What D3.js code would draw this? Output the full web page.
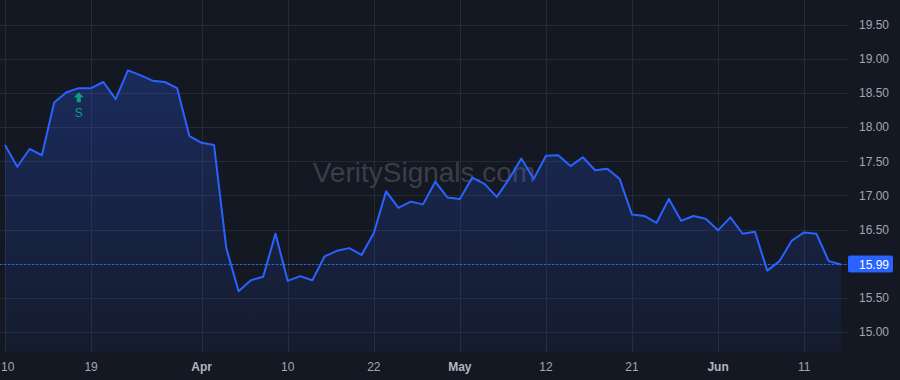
<!DOCTYPE html>
<html>
<head>
<meta charset="utf-8">
<script src="https://cdn.jsdelivr.net/npm/d3@7"></script>
<style>
  html, body { margin: 0; padding: 0; background: #141823; }
  #chart { width: 900px; height: 380px; }
  text { font-family: "Liberation Sans", Arial, sans-serif; }
</style>
</head>
<body>
<div id="chart"></div>
<script>
// Trading days (2025), listed per month
const marDays = [10, 11, 12, 13, 14, 17, 18, 19, 20, 21, 24, 25, 26, 27, 28, 31];
const aprDays = [1, 2, 3, 4, 7, 8, 9, 10, 11, 14, 15, 16, 17, 21, 22, 23, 24, 25, 28, 29, 30];
const mayDays = [1, 2, 5, 6, 7, 8, 9, 12, 13, 14, 15, 16, 19, 20, 21, 22, 23, 27, 28, 29, 30];
const junDays = [2, 3, 4, 5, 6, 9, 10, 11, 12, 13, 16];

// Closing prices, one per trading day
const closes = [
  17.74, 17.42, 17.68, 17.59, 18.36, 18.51, 18.57, 18.57, 18.66, 18.41,
  18.83, 18.76, 18.68, 18.66, 18.57, 17.87, 17.77, 17.74, 16.23, 15.60,
  15.76, 15.81, 16.44, 15.75, 15.82, 15.76, 16.11, 16.19, 16.23, 16.13,
  16.45, 17.06, 16.82, 16.91, 16.87, 17.20, 16.97, 16.95, 17.26, 17.17,
  16.98, 17.24, 17.54, 17.24, 17.58, 17.59, 17.43, 17.56, 17.37, 17.39,
  17.24, 16.72, 16.70, 16.60, 16.95, 16.63, 16.70, 16.66, 16.49, 16.68,
  16.44, 16.47, 15.90, 16.04, 16.34, 16.46, 16.44, 16.04, 15.99
];

// X axis tick labels (date -> label), month starts shown bold
const xTickDates = ["2025-03-10", "2025-03-19", "2025-04-01", "2025-04-10", "2025-04-22",
  "2025-05-01", "2025-05-12", "2025-05-21", "2025-06-02", "2025-06-11"];
const xTickLabels = ["10", "19", "Apr", "10", "22", "May", "12", "21", "Jun", "11"];

// Y axis ticks
const yTicks = [15.0, 15.5, 16.0, 16.5, 17.0, 17.5, 18.0, 18.5, 19.0, 19.5];

// Signal markers
const signalDates = ["2025-03-18"];
const signalLabels = ["S"];

const watermark = "VeritySignals.com";

const pad = (n) => String(n).padStart(2, "0");
const dates = [
  ...marDays.map((d) => `2025-03-${pad(d)}`),
  ...aprDays.map((d) => `2025-04-${pad(d)}`),
  ...mayDays.map((d) => `2025-05-${pad(d)}`),
  ...junDays.map((d) => `2025-06-${pad(d)}`),
];
const data = dates.map((d, i) => ({ date: d, value: closes[i] }));
const last = data[data.length - 1];

const width = 900;
const height = 380;
const plotW = 848;
const plotH = 352;

const bg = "#141823";
const gridColor = "#262a35";
const lineColor = "#2962ff";
const textColor = "#a3a6af";

const x = d3.scalePoint().domain(dates).range([5, 841]);
const y = d3.scaleLinear().domain([14.71, 19.86]).range([plotH, 0]);

const svg = d3.select("#chart")
  .append("svg")
  .attr("width", width)
  .attr("height", height);

svg.append("rect")
  .attr("width", width)
  .attr("height", height)
  .attr("fill", bg);

const defs = svg.append("defs");
const grad = defs.append("linearGradient")
  .attr("id", "areaFill")
  .attr("gradientUnits", "userSpaceOnUse")
  .attr("x1", 0).attr("x2", 0)
  .attr("y1", y(d3.max(closes))).attr("y2", plotH);
grad.append("stop").attr("offset", "0%").attr("stop-color", lineColor).attr("stop-opacity", 0.26);
grad.append("stop").attr("offset", "100%").attr("stop-color", lineColor).attr("stop-opacity", 0.05);

defs.append("clipPath").attr("id", "plotClip")
  .append("rect").attr("width", plotW).attr("height", plotH);

// Grid
const grid = svg.append("g");
yTicks.forEach((t) => {
  grid.append("line")
    .attr("x1", 0).attr("x2", plotW)
    .attr("y1", Math.round(y(t)) + 0.5).attr("y2", Math.round(y(t)) + 0.5)
    .attr("stroke", gridColor).attr("stroke-width", 1);
});
xTickDates.forEach((d) => {
  grid.append("line")
    .attr("x1", Math.round(x(d)) + 0.5).attr("x2", Math.round(x(d)) + 0.5)
    .attr("y1", 0).attr("y2", plotH)
    .attr("stroke", gridColor).attr("stroke-width", 1);
});

// Watermark
svg.append("text")
  .attr("x", plotW / 2)
  .attr("y", 172)
  .attr("dy", "0.35em")
  .attr("text-anchor", "middle")
  .style("font-size", "28px")
  .style("fill", "#3a3e49")
  .text(watermark);

const plot = svg.append("g").attr("clip-path", "url(#plotClip)");

// Area + line
plot.append("path")
  .datum(data)
  .attr("fill", "url(#areaFill)")
  .attr("d", d3.area().x((d) => x(d.date)).y0(plotH).y1((d) => y(d.value)));

plot.append("path")
  .datum(data)
  .attr("fill", "none")
  .attr("stroke", lineColor)
  .attr("stroke-width", 2)
  .attr("stroke-linejoin", "round")
  .attr("d", d3.line().x((d) => x(d.date)).y((d) => y(d.value)));

// Last price dashed line
plot.append("line")
  .attr("x1", 0).attr("x2", plotW)
  .attr("y1", y(last.value)).attr("y2", y(last.value))
  .attr("stroke", lineColor)
  .attr("stroke-width", 1)
  .attr("stroke-dasharray", "2,2");

// Signal markers (up arrow + label)
signalDates.forEach((d, i) => {
  const v = data.find((p) => p.date === d).value;
  const cx = x(d);
  const top = y(v) + 4;
  const arrow = d3.path();
  arrow.moveTo(cx, top);
  arrow.lineTo(cx + 5, top + 5);
  arrow.lineTo(cx + 2, top + 5);
  arrow.lineTo(cx + 2, top + 10);
  arrow.lineTo(cx - 2, top + 10);
  arrow.lineTo(cx - 2, top + 5);
  arrow.lineTo(cx - 5, top + 5);
  arrow.closePath();
  svg.append("path").attr("d", arrow.toString()).attr("fill", "#0f9d7f");
  svg.append("text")
    .attr("x", cx)
    .attr("y", top + 21)
    .attr("dy", "0.35em")
    .attr("text-anchor", "middle")
    .style("font-size", "12px")
    .style("fill", "#0f9d7f")
    .text(signalLabels[i]);
});

// Y axis labels (skip those under the last price tag)
const lastY = y(last.value);
yTicks.forEach((t) => {
  if (Math.abs(y(t) - lastY) < 12) return;
  svg.append("text")
    .attr("x", 859)
    .attr("y", y(t))
    .attr("dy", "0.35em")
    .style("font-size", "12px")
    .style("fill", textColor)
    .text(t.toFixed(2));
});

// Last price tag
svg.append("rect")
  .attr("x", 848).attr("y", lastY - 9)
  .attr("width", 45).attr("height", 17)
  .attr("rx", 2)
  .attr("fill", lineColor);
svg.append("text")
  .attr("x", 859)
  .attr("y", lastY)
  .attr("dy", "0.35em")
  .style("font-size", "12px")
  .style("fill", "#ffffff")
  .text(last.value.toFixed(2));

// X axis labels (first one kept inside the left edge)
xTickDates.forEach((d, i) => {
  const isMonth = isNaN(+xTickLabels[i]);
  const label = svg.append("text")
    .attr("y", 367)
    .attr("dy", "0.35em")
    .style("font-size", "12px")
    .style("font-weight", isMonth ? "bold" : "normal")
    .style("fill", isMonth ? "#b2b5be" : textColor)
    .text(xTickLabels[i]);
  const w = label.node().getComputedTextLength();
  const cx = x(d);
  if (cx - w / 2 < 1) {
    label.attr("x", 1).attr("text-anchor", "start");
  } else {
    label.attr("x", cx).attr("text-anchor", "middle");
  }
});
</script>
</body>
</html>
